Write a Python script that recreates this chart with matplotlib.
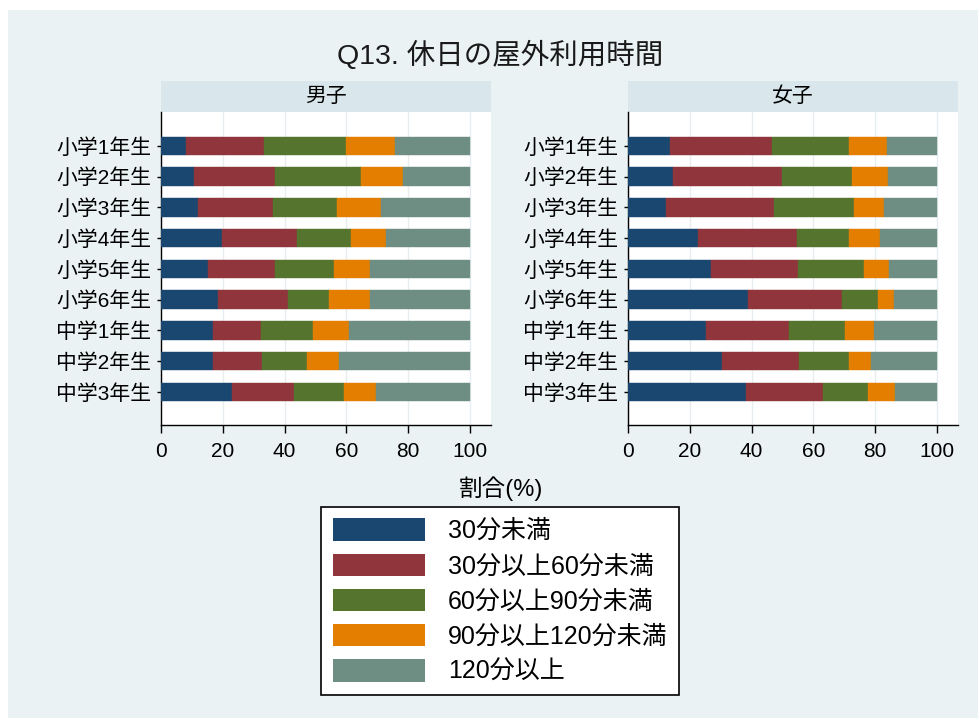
import matplotlib
matplotlib.use("Agg")
import matplotlib.pyplot as plt
from matplotlib.patches import Patch, Rectangle

plt.rcParams['font.family'] = ['Liberation Sans', 'Noto Sans CJK JP', 'DejaVu Sans']

grades = ['小学1年生', '小学2年生', '小学3年生', '小学4年生', '小学5年生',
          '小学6年生', '中学1年生', '中学2年生', '中学3年生']
categories = ['30分未満', '30分以上60分未満', '60分以上90分未満',
              '90分以上120分未満', '120分以上']
colors = ['#1a476f', '#90353b', '#55752f', '#e37e00', '#6e8e84']

# cumulative boundaries (%), per grade
boys_cum = [
    [8.0, 33.4, 59.9, 75.8],
    [10.8, 36.9, 64.7, 78.2],
    [11.9, 36.2, 57.0, 71.2],
    [19.6, 44.0, 61.5, 72.8],
    [15.3, 36.9, 56.0, 67.5],
    [18.4, 41.1, 54.4, 67.7],
    [16.7, 32.4, 49.1, 60.7],
    [16.7, 32.8, 47.2, 57.6],
    [23.1, 43.1, 59.3, 69.6],
]
girls_cum = [
    [13.6, 46.6, 71.4, 83.7],
    [14.6, 49.8, 72.6, 84.3],
    [12.3, 47.4, 73.2, 82.7],
    [22.8, 54.8, 71.6, 81.7],
    [26.9, 55.1, 76.5, 84.4],
    [38.8, 69.4, 80.8, 86.0],
    [25.2, 52.1, 70.2, 79.7],
    [30.4, 55.3, 71.4, 78.5],
    [38.2, 63.0, 77.6, 86.3],
]
panels = ['男子', '女子']

W, H = 979, 719
fig = plt.figure(figsize=(W / 100, H / 100), dpi=100, facecolor='white')
fig.patches.append(Rectangle((8 / W, 1 / H), 1 - 8 / W, 1 - 11 / H,
                             transform=fig.transFigure, facecolor='#eaf2f3',
                             edgecolor='none', zorder=-10))

ax_left = [161, 628]
for p, (name, cum) in enumerate(zip(panels, [boys_cum, girls_cum])):
    ax = fig.add_axes([ax_left[p] / W, 1 - 425 / H, 330 / W, 313 / H])
    ax.set_facecolor('white')
    ypos = list(range(len(grades)))
    for r, row in enumerate(cum):
        edges = [0] + row + [100]
        for k in range(len(categories)):
            ax.barh(ypos[r], edges[k + 1] - edges[k], left=edges[k], height=0.6,
                    color=colors[k], edgecolor=colors[k], linewidth=0.3, zorder=3)
    ax.set_xlim(0, 106.8)
    ax.set_ylim(len(grades) - 1 + 1.08, -1.1)
    ax.set_yticks(ypos)
    ax.set_yticklabels(grades, fontsize=15)
    ax.set_xticks([0, 20, 40, 60, 80, 100])
    ax.tick_params(axis='x', labelsize=15, length=6, width=1, pad=6)
    ax.tick_params(axis='y', length=3, width=1, pad=4)
    ax.grid(axis='x', color='#e8eef0', linewidth=1, zorder=0)
    for s in ['top', 'right']:
        ax.spines[s].set_visible(False)
    for s in ['left', 'bottom']:
        ax.spines[s].set_linewidth(1)
    # strip header
    ax.add_patch(Rectangle((0, 1), 1, 31 / 313, transform=ax.transAxes,
                           facecolor='#d9e6eb', edgecolor='none', clip_on=False))
    ax.text(0.5, 1 + 15.5 / 313, name, transform=ax.transAxes, ha='center',
            va='center', fontsize=15)

fig.text(500 / W, 1 - 55 / H, 'Q13. 休日の屋外利用時間', ha='center', va='center',
         fontsize=20.5, color='#1a1a1a')
fig.text(501 / W, 1 - 489 / H, '割合(%)', ha='center', va='center', fontsize=17)

handles = [Patch(facecolor=c, edgecolor='none') for c in colors]
leg = fig.legend(handles, categories, loc='upper center',
                 bbox_to_anchor=(500 / W, 1 - 507 / H), fontsize=18,
                 handlelength=3.7, handleheight=1.0, handletextpad=0.9,
                 labelspacing=0.42, borderpad=0.45, fancybox=False,
                 framealpha=1, edgecolor='black', borderaxespad=0)
leg.get_frame().set_linewidth(1.2)

fig.savefig('out.png', dpi=100, facecolor=fig.get_facecolor())
